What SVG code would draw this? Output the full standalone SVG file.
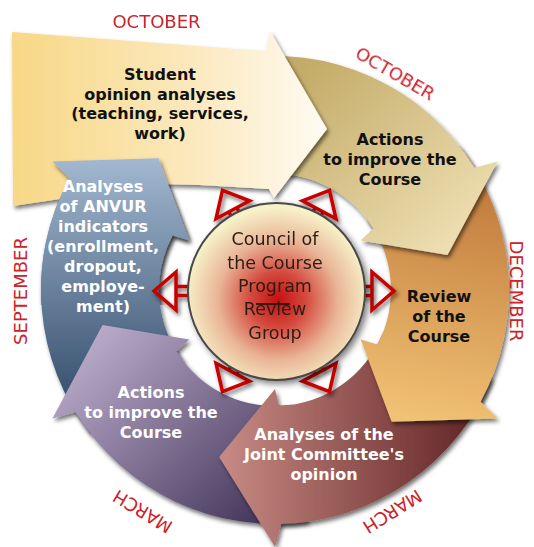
<svg xmlns="http://www.w3.org/2000/svg" xmlns:xlink="http://www.w3.org/1999/xlink" width="534" height="547" viewBox="0 0 534 547">
<style>
.t{font-family:"DejaVu Sans",Verdana,sans-serif;font-weight:bold;font-size:16px;text-anchor:middle}
.dk{fill:#111}
.wh{fill:#fff}
.m{font-family:"DejaVu Sans",Verdana,sans-serif;font-size:18px;fill:#cc2229;text-anchor:middle}
.c{font-family:"DejaVu Sans",Verdana,sans-serif;font-size:17.5px;fill:#2b1d14;text-anchor:middle}
.ra{fill:none;stroke:#c80000;stroke-width:3.5}
</style>
<defs>
<filter id="sh" x="-15%" y="-15%" width="135%" height="135%">
<feGaussianBlur in="SourceAlpha" stdDeviation="2.2"/>
<feOffset dx="2" dy="2.5" result="b"/>
<feFlood flood-color="#000" flood-opacity="0.55"/>
<feComposite in2="b" operator="in"/>
<feMerge><feMergeNode/><feMergeNode in="SourceGraphic"/></feMerge>
</filter>
<filter id="shc" x="-20%" y="-20%" width="145%" height="145%">
<feGaussianBlur in="SourceAlpha" stdDeviation="3"/>
<feOffset dx="3" dy="3" result="b"/>
<feFlood flood-color="#000" flood-opacity="0.5"/>
<feComposite in2="b" operator="in"/>
<feMerge><feMergeNode/><feMergeNode in="SourceGraphic"/></feMerge>
</filter>
<linearGradient id="gY" x1="12" y1="0" x2="327" y2="0" gradientUnits="userSpaceOnUse"><stop offset="0" stop-color="#f8d886"/><stop offset="0.55" stop-color="#fbe8bb"/><stop offset="1" stop-color="#fffbf3"/></linearGradient>
<linearGradient id="gT" x1="300" y1="70" x2="460" y2="250" gradientUnits="userSpaceOnUse"><stop offset="0" stop-color="#c3ab68"/><stop offset="1" stop-color="#efe0b4"/></linearGradient>
<linearGradient id="gO" x1="470" y1="180" x2="420" y2="420" gradientUnits="userSpaceOnUse"><stop offset="0" stop-color="#c17a3c"/><stop offset="1" stop-color="#f0c274"/></linearGradient>
<linearGradient id="gB" x1="220" y1="0" x2="490" y2="0" gradientUnits="userSpaceOnUse"><stop offset="0" stop-color="#c88a84"/><stop offset="1" stop-color="#5c2020"/></linearGradient>
<linearGradient id="gP" x1="90" y1="330" x2="270" y2="515" gradientUnits="userSpaceOnUse"><stop offset="0" stop-color="#bcaccc"/><stop offset="1" stop-color="#45365a"/></linearGradient>
<linearGradient id="gBl" x1="0" y1="160" x2="0" y2="430" gradientUnits="userSpaceOnUse"><stop offset="0" stop-color="#a2b7d0"/><stop offset="1" stop-color="#2a4462"/></linearGradient>
<radialGradient id="gC" cx="278" cy="300" r="92" gradientUnits="userSpaceOnUse"><stop offset="0" stop-color="#c41010"/><stop offset="0.3" stop-color="#d44a3e"/><stop offset="0.65" stop-color="#e9b496"/><stop offset="1" stop-color="#f6f1c8"/></radialGradient>
<clipPath id="topclip"><rect x="0" y="0" width="260" height="305"/></clipPath>
<path id="pBlue" d="M90.61,434.06 A234,234 0 0 1 69.36,178.34 L52.43,161.5 L158.38,158.18 L189.26,240.5 L172.58,235.54 A116,116 0 0 0 183.59,361.42 Z"/>
<g id="ra" class="ra"><path d="M86,-4.5H98M86,4.5H98"/><path d="M98,-19L120,0L98,19Z"/></g>
</defs>

<g id="node-anvur-base"><use xlink:href="#pBlue" fill="url(#gBl)" filter="url(#sh)"/></g>

<g id="node-actions-bottom">
<path d="M307.57,521.72 A234,234 0 0 1 75.48,412.27 L52.43,418.5 L102.53,325.09 L189.26,339.5 L176.63,351.47 A116,116 0 0 0 291.14,404.87 Z" fill="url(#gP)" filter="url(#sh)"/>
<text class="t wh" x="151" y="398">Actions</text>
<text class="t wh" x="151" y="418">to improve the</text>
<text class="t wh" x="151" y="438">Course</text>
</g>

<g id="node-joint">
<path d="M491.96,377.66 A234,234 0 0 1 281.13,523.92 L275,547 L219.16,456.9 L275,389 L279.05,405.93 A116,116 0 0 0 382.55,333.45 Z" fill="url(#gB)" filter="url(#sh)"/>
<text class="t wh" x="324" y="440">Analyses of the</text>
<text class="t wh" x="324" y="460">Joint Committee's</text>
<text class="t wh" x="324" y="480">opinion</text>
</g>

<g id="node-review">
<path d="M459.39,145.94 A234,234 0 0 1 480.64,401.66 L497.57,418.5 L391.62,421.82 L360.74,339.5 L377.42,344.46 A116,116 0 0 0 366.41,218.58 Z" fill="url(#gO)" filter="url(#sh)"/>
<text class="t dk" x="439" y="302">Review</text>
<text class="t dk" x="439" y="322">of the</text>
<text class="t dk" x="439" y="342">Course</text>
</g>

<g id="node-actions-top">
<path d="M234.37,59.55 A234,234 0 0 1 474.52,167.73 L497.57,161.5 L447.47,254.91 L360.74,240.5 L373.37,228.53 A116,116 0 0 0 254.86,175.76 Z" fill="url(#gT)" filter="url(#sh)"/>
<text class="t dk" x="390" y="145">Actions</text>
<text class="t dk" x="390" y="165">to improve the</text>
<text class="t dk" x="390" y="185">Course</text>
</g>

<g id="node-student">
<path d="M12,32 L266,51 L270,31 L327,129 L274,198 L269,189 L200,185 L160,184 L13,206 Z" fill="url(#gY)" filter="url(#sh)"/>
<text class="t dk" x="160" y="80">Student</text>
<text class="t dk" x="160" y="99.5">opinion analyses</text>
<text class="t dk" x="160" y="119">(teaching, services,</text>
<text class="t dk" x="160" y="138.5">work)</text>
</g>

<g id="node-anvur">
<use xlink:href="#pBlue" fill="url(#gBl)" filter="url(#sh)" clip-path="url(#topclip)"/>
<text class="t wh" x="103" y="192">Analyses</text>
<text class="t wh" x="103" y="212">of ANVUR</text>
<text class="t wh" x="103" y="232">indicators</text>
<text class="t wh" x="103" y="252">(enrollment,</text>
<text class="t wh" x="103" y="272">dropout,</text>
<text class="t wh" x="103" y="292">employe-</text>
<text class="t wh" x="103" y="312">ment)</text>
</g>

<g id="connectors" filter="url(#sh)">
<use xlink:href="#ra" transform="translate(274,291) rotate(0)"/>
<use xlink:href="#ra" transform="translate(274,291) rotate(180)"/>
<use xlink:href="#ra" transform="translate(276,291) rotate(62) translate(-6,0)"/>
<use xlink:href="#ra" transform="translate(276,291) rotate(118) translate(-6,0)"/>
<use xlink:href="#ra" transform="translate(276,291) rotate(-118) translate(-6,0)"/>
<use xlink:href="#ra" transform="translate(276,291) rotate(-62) translate(-6,0)"/>
</g>

<g id="node-council">
<circle cx="276.5" cy="291.5" r="88.5" fill="url(#gC)" stroke="#4a4a4a" stroke-width="2" filter="url(#shc)"/>
<text class="c" x="275" y="245">Council of</text>
<text class="c" x="275" y="268.5">the Course</text>
<text class="c" x="275" y="292">Program</text>
<line x1="256" y1="304" x2="290" y2="304" stroke="#111" stroke-width="1.5"/>
<text class="c" x="275" y="315">Review</text>
<text class="c" x="275" y="338.5">Group</text>
</g>

<g id="labels">
<text class="m" x="156.5" y="28">OCTOBER</text>
<text class="m" transform="translate(392,79) rotate(30)">OCTOBER</text>
<text class="m" transform="translate(510,291) rotate(90)">DECEMBER</text>
<text class="m" transform="translate(27,291) rotate(-90)">SEPTEMBER</text>
<text class="m" transform="translate(146,506) rotate(211)">MARCH</text>
<text class="m" transform="translate(389,506) rotate(148)">MARCH</text>
</g>
</svg>
